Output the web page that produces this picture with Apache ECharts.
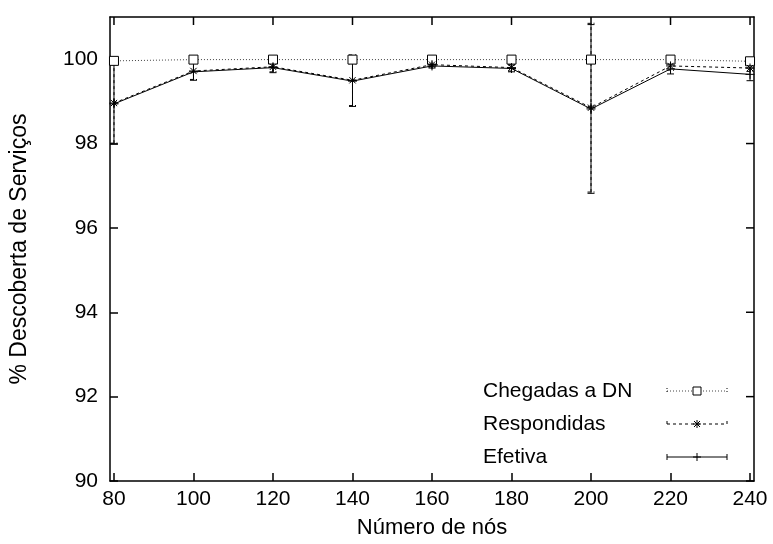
<!DOCTYPE html>
<html>
<head>
<meta charset="utf-8">
<script src="https://cdn.jsdelivr.net/npm/echarts@6/dist/echarts.min.js"></script>
<style>
html,body{margin:0;padding:0;background:#fff;}
#chart{width:773px;height:544px;}
</style>
</head>
<body>
<div id="chart"></div>
<script>
// ---- data ----
const nodes = [80, 100, 120, 140, 160, 180, 200, 220, 240];
const chegadas = [99.96, 99.99, 99.99, 99.99, 99.99, 99.99, 99.99, 99.99, 99.95];
const chegadasErr = [0.08, 0.05, 0.05, 0.10, 0.03, 0.03, 0.03, 0.03, 0.08];
const respondidas = [98.96, 99.72, 99.82, 99.50, 99.87, 99.80, 98.85, 99.84, 99.79];
const respondidasErr = [0.95, 0.20, 0.12, 0.60, 0.05, 0.08, 2.00, 0.10, 0.08];
const efetiva = [98.94, 99.70, 99.80, 99.48, 99.84, 99.78, 98.82, 99.77, 99.64];
const efetivaErr = [0.95, 0.20, 0.12, 0.60, 0.05, 0.08, 2.00, 0.12, 0.15];
const seriesNames = ['Chegadas a DN', 'Respondidas', 'Efetiva'];
const yTicks = [90, 92, 94, 96, 98, 100];
const xTicks = [80, 100, 120, 140, 160, 180, 200, 220, 240];

const FONT = 'Liberation Sans, Arial, Helvetica, sans-serif';
const chart = echarts.init(document.getElementById('chart'), null, {renderer: 'canvas'});

const dashes = [[1, 2], [3, 3], null];
const lineColors = ['#444', '#000', '#000'];
const TICK_LEN = 8;
const FRAME_W = 1.5;

function errSeries(id, vals, errs, dash) {
  return {
    type: 'custom',
    name: id,
    z: 3,
    data: nodes.map((x, i) => [x, vals[i] - errs[i], vals[i] + errs[i]]),
    renderItem: function (params, api) {
      const lo = api.coord([api.value(0), api.value(1)]);
      const hi = api.coord([api.value(0), api.value(2)]);
      const w = 3.5;
      const style = {stroke: '#000', lineWidth: 1, lineDash: dash};
      return {
        type: 'group',
        children: [
          {type: 'line', shape: {x1: lo[0], y1: lo[1], x2: hi[0], y2: hi[1]}, style: style},
          {type: 'line', shape: {x1: lo[0] - w, y1: lo[1], x2: lo[0] + w, y2: lo[1]}, style: style},
          {type: 'line', shape: {x1: hi[0] - w, y1: hi[1], x2: hi[0] + w, y2: hi[1]}, style: style}
        ]
      };
    },
    silent: true
  };
}

// mirrored ticks on the top and right borders (gnuplot style frame)
const mirrorTicks = {
  type: 'custom', name: 'mirrorTicks', z: 2, silent: true, clip: false,
  data: xTicks.map(v => [v, yTicks[0]]).concat(yTicks.map(v => [xTicks[0], v])),
  renderItem: function (params, api) {
    const cs = params.coordSys;
    const i = params.dataIndex;
    const style = {stroke: '#000', lineWidth: FRAME_W};
    const p = api.coord([api.value(0), api.value(1)]);
    if (i < xTicks.length) {
      return {type: 'line', shape: {x1: p[0], y1: cs.y, x2: p[0], y2: cs.y + TICK_LEN}, style: style};
    }
    const xr = cs.x + cs.width;
    return {type: 'line', shape: {x1: xr, y1: p[1], x2: xr - TICK_LEN, y2: p[1]}, style: style};
  }
};

const starPath = 'path://M0,5L10,5M5,0L5,10M1.5,1.5L8.5,8.5M1.5,8.5L8.5,1.5';
const plusPath = 'path://M0,5L10,5M5,0L5,10';

// legend drawn as graphic (text on the left, line sample on the right)
function seg(x1, y1, x2, y2, dash) {
  return {type: 'line', shape: {x1: x1, y1: y1, x2: x2, y2: y2}, style: {stroke: '#000', lineWidth: 1, lineDash: dash || null}};
}
const symbolShapes = [
  [{type: 'rect', shape: {x: 26, y: -4, width: 8, height: 8}, style: {fill: '#fff', stroke: '#000', lineWidth: 1}}],
  [seg(26, 0, 34, 0), seg(30, -4, 30, 4), seg(27, -3, 33, 3), seg(27, 3, 33, -3)],
  [seg(26, 0, 34, 0), seg(30, -4, 30, 4)]
];
const legendGraphics = [];
seriesNames.forEach((nm, i) => {
  const cy = 391 + i * 33;
  legendGraphics.push({
    type: 'text', x: 483, y: cy,
    style: {text: nm, font: '21px ' + FONT, fill: '#000', verticalAlign: 'middle', align: 'left'}
  });
  legendGraphics.push({
    type: 'group', x: 667, y: cy,
    children: [
      {type: 'line', shape: {x1: 0, y1: 0, x2: 60, y2: 0}, style: {stroke: lineColors[i], lineWidth: 1, lineDash: dashes[i]}},
      seg(0, -3, 0, 3, dashes[i]),
      seg(60, -3, 60, 3, dashes[i])
    ].concat(symbolShapes[i])
  });
});

const axisLineStyle = {show: true, onZero: false, lineStyle: {color: '#000', width: FRAME_W}};
const tickStyle = {color: '#000', width: FRAME_W};

const option = {
  backgroundColor: '#fff',
  animation: false,
  grid: {left: 110, right: 19, top: 17, bottom: 63, containLabel: false},
  xAxis: [
    {
      type: 'value', min: 79, max: 241, interval: 20, position: 'bottom',
      axisLine: axisLineStyle, splitLine: {show: false},
      axisTick: {show: true, inside: true, length: TICK_LEN, lineStyle: tickStyle, customValues: xTicks},
      name: 'Número de nós', nameLocation: 'middle', nameGap: 36,
      nameTextStyle: {fontFamily: FONT, fontSize: 22, color: '#000'},
      axisLabel: {fontFamily: FONT, fontSize: 21, color: '#000', margin: 8, customValues: xTicks}
    },
    {
      type: 'value', min: 79, max: 241, position: 'top',
      axisLine: axisLineStyle, splitLine: {show: false},
      axisTick: {show: false}, axisLabel: {show: false}
    }
  ],
  yAxis: [
    {
      type: 'value', min: 90, max: 101, interval: 2, position: 'left',
      axisLine: axisLineStyle, splitLine: {show: false},
      axisTick: {show: true, inside: true, length: TICK_LEN, lineStyle: tickStyle, customValues: yTicks},
      name: '% Descoberta de Serviços', nameLocation: 'middle', nameGap: 79, nameRotate: 90,
      nameTextStyle: {fontFamily: FONT, fontSize: 23, color: '#000'},
      axisLabel: {fontFamily: FONT, fontSize: 21, color: '#000', margin: 12, customValues: yTicks}
    },
    {
      type: 'value', min: 90, max: 101, position: 'right',
      axisLine: axisLineStyle, splitLine: {show: false},
      axisTick: {show: false}, axisLabel: {show: false}
    }
  ],
  graphic: legendGraphics,
  series: [
    mirrorTicks,
    errSeries('errC', chegadas, chegadasErr, dashes[0]),
    errSeries('errR', respondidas, respondidasErr, dashes[1]),
    errSeries('errE', efetiva, efetivaErr, dashes[2]),
    {
      type: 'line', name: seriesNames[0], z: 4,
      data: nodes.map((x, i) => [x, chegadas[i]]),
      symbol: 'rect', symbolSize: 9,
      itemStyle: {color: '#fff', borderColor: '#000', borderWidth: 1},
      lineStyle: {color: lineColors[0], width: 1, type: dashes[0]}
    },
    {
      type: 'line', name: seriesNames[1], z: 4,
      data: nodes.map((x, i) => [x, respondidas[i]]),
      symbol: starPath, symbolSize: 9,
      itemStyle: {color: '#000', borderColor: '#000', borderWidth: 1},
      lineStyle: {color: lineColors[1], width: 1, type: dashes[1]}
    },
    {
      type: 'line', name: seriesNames[2], z: 4,
      data: nodes.map((x, i) => [x, efetiva[i]]),
      symbol: plusPath, symbolSize: 9,
      itemStyle: {color: '#000', borderColor: '#000', borderWidth: 1},
      lineStyle: {color: lineColors[2], width: 1, type: 'solid'}
    }
  ]
};
chart.setOption(option);
</script>
</body>
</html>
